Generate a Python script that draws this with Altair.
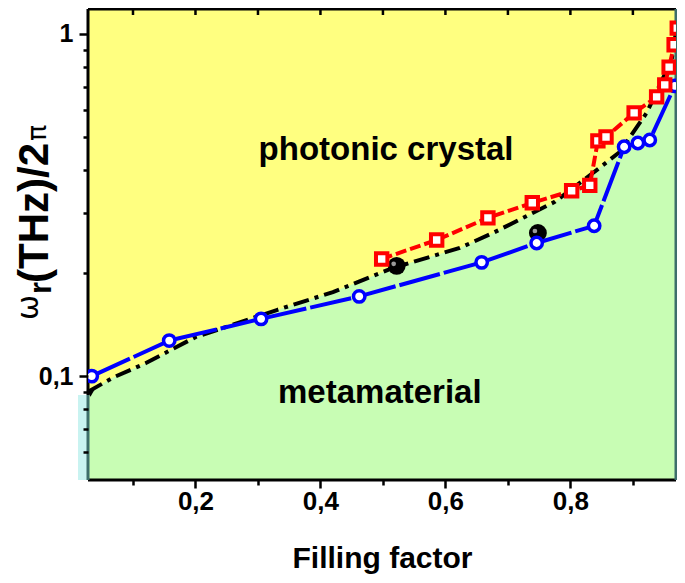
import altair as alt
import pandas as pd

# ---- data ----
blue_f = [0.034, 0.158, 0.305, 0.462, 0.658, 0.746, 0.838, 0.886, 0.908, 0.927, 0.967]
blue_w = [0.100, 0.127, 0.147, 0.171, 0.215, 0.245, 0.275, 0.468, 0.480, 0.490, 0.705]

red_f = [0.498, 0.586, 0.668, 0.739, 0.802, 0.831, 0.844, 0.857, 0.902, 0.938, 0.951, 0.958, 0.966, 0.971]
red_w = [0.220, 0.250, 0.290, 0.321, 0.348, 0.361, 0.487, 0.500, 0.588, 0.655, 0.710, 0.800, 0.930, 1.04]

black_f = [0.028, 0.068, 0.12, 0.20, 0.33, 0.42, 0.516, 0.623, 0.676, 0.724, 0.775, 0.842, 0.879, 0.922, 0.962, 0.972]
black_w = [0.090, 0.099, 0.109, 0.130, 0.156, 0.176, 0.207, 0.237, 0.262, 0.290, 0.323, 0.40, 0.452, 0.588, 0.84, 1.10]

dot_f = [0.522, 0.748]
dot_w = [0.210, 0.262]

start_f = [0.032]
start_w = [0.089]

x_ticks = [0.1, 0.2, 0.3, 0.4, 0.5, 0.6, 0.7, 0.8, 0.9]
y_ticks = [0.06, 0.07, 0.08, 0.09, 0.1, 0.2, 0.3, 0.4, 0.5, 0.6, 0.7, 0.8, 0.9, 1.0]

labels = ["photonic crystal", "metamaterial"]
label_f = [0.505, 0.495]
label_w = [0.429, 0.0834]

X_DOMAIN = [0.028, 0.969]
Y_DOMAIN = [0.0497, 1.183]

W, H = 588, 471
FONT = "Liberation Sans"

blue = pd.DataFrame({"f": blue_f, "w": blue_w})
red = pd.DataFrame({"f": red_f, "w": red_w})
black = pd.DataFrame({"f": black_f, "w": black_w})
dots = pd.DataFrame({"f": dot_f, "w": dot_w})
start = pd.DataFrame({"f": start_f, "w": start_w})
xt = pd.DataFrame({"f": x_ticks})
lab = pd.DataFrame({"t": labels, "f": label_f, "w": label_w})
one = pd.DataFrame({"a": [0]})

xscale = alt.Scale(domain=X_DOMAIN, nice=False, zero=False)
yscale = alt.Scale(type="log", domain=Y_DOMAIN, nice=False)

x_axis = alt.Axis(
    values=x_ticks,
    labelExpr="round(datum.value*10) % 2 == 0 ? replace(format(datum.value, '.1f'), '.', ',') : ''",
    tickSize={"condition": {"test": "round(datum.value*10) % 2 == 0", "value": 8}, "value": 5},
    tickWidth=2.5, tickColor="black", domain=False, grid=False,
    labelFont=FONT, labelFontSize=26, labelFontWeight="bold", labelColor="black",
    labelPadding=0,
    title="Filling factor", titleFont=FONT, titleFontSize=30, titleFontWeight="bold",
    titleColor="black", titleBaseline="alphabetic", titleY=87, zindex=1,
)
y_axis = alt.Axis(
    values=y_ticks,
    labelExpr="datum.value == 1 ? '1' : (datum.value == 0.1 ? '0,1' : '')",
    tickSize={"condition": {"test": "datum.value == 1 || datum.value == 0.1", "value": 9}, "value": 5},
    tickWidth=2.5, tickColor="black", domain=False, grid=False,
    labelFont=FONT, labelFontSize=25, labelFontWeight="bold", labelColor="black",
    labelPadding=6, title=None, zindex=1,
)

X = alt.X("f:Q", scale=xscale, axis=x_axis)
Y = alt.Y("w:Q", scale=yscale, axis=y_axis)

base_x = alt.X("f:Q", scale=xscale)
base_y = alt.Y("w:Q", scale=yscale)

green = alt.Chart(black).mark_area(color="#C8FDB4", opacity=1, clip=True).encode(
    x=X, y=Y, y2=alt.datum(Y_DOMAIN[0])
)

def rule(x, y, x2=None, y2=None, color="black", sw=3):
    enc = dict(x=alt.value(x), y=alt.value(y))
    if x2 is not None:
        enc["x2"] = alt.value(x2)
    if y2 is not None:
        enc["y2"] = alt.value(y2)
    return alt.Chart(one).mark_rule(color=color, strokeWidth=sw).encode(**enc)

cyan = alt.Chart(one).mark_rect(color="#C9F3F1").encode(
    x=alt.value(-10), x2=alt.value(-1), y=alt.value(386), y2=alt.value(471)
)

spines = [
    rule(0, 0, x2=W),
    rule(0, H, x2=W),
    rule(0, 0, y2=386),
    rule(0, 386, y2=H, color="#3D6E6B"),
    rule(W, 0, y2=H, color="#3D6E6B"),
]

top_ticks = alt.Chart(xt).mark_rule(color="black", strokeWidth=2.5).encode(
    x=base_x, y=alt.value(0), y2=alt.value(6)
)

black_line = alt.Chart(black).mark_line(
    color="black", strokeWidth=4, strokeDash=[16, 6, 4, 6], clip=True
).encode(x=base_x, y=base_y)

start_mark = alt.Chart(start).mark_point(
    shape="triangle-down", filled=True, color="black", size=60, opacity=1
).encode(x=base_x, y=base_y)

dot_marks = alt.Chart(dots).mark_point(
    shape="circle", filled=True, color="black", size=320, opacity=1
).encode(x=base_x, y=base_y)
dot_hl = alt.Chart(dots).mark_point(
    shape="circle", filled=True, color="#9a9a9a", size=22, opacity=1, xOffset=-3, yOffset=-2
).encode(x=base_x, y=base_y)

blue_line = alt.Chart(blue).mark_line(
    color="#0000FF", strokeWidth=4, strokeDash=[42, 4], clip=True
).encode(x=base_x, y=base_y)
blue_pts = alt.Chart(blue).mark_point(
    shape="circle", filled=True, fill="white", stroke="#0000FF", strokeWidth=3.5,
    size=130, opacity=1, clip=True
).encode(x=base_x, y=base_y)

red_line = alt.Chart(red).mark_line(
    color="#FF0000", strokeWidth=4, strokeDash=[11, 4], clip=True
).encode(x=base_x, y=base_y)
red_pts = alt.Chart(red).mark_point(
    shape="square", filled=True, fill="white", stroke="#FF0000", strokeWidth=4,
    size=130, opacity=1, clip=True
).encode(x=base_x, y=base_y)

texts = alt.Chart(lab).mark_text(
    font=FONT, fontSize=33, fontWeight="bold", color="black", align="center", baseline="alphabetic"
).encode(x=base_x, y=base_y, text="t:N")

def ytitle(txt, x, y, size, weight="bold", font=FONT):
    return alt.Chart(one).mark_text(
        text=txt, angle=270, align="left", baseline="alphabetic",
        font=font, fontSize=size, fontWeight=weight, color="black"
    ).encode(x=alt.value(x), y=alt.value(y))

ytitles = [
    ytitle("ω", -50, 311, 30, weight="normal", font="DejaVu Sans"),
    ytitle("r", -37, 285, 31),
    ytitle("(THz)/2", -40, 274, 42),
    ytitle("π", -42, 132, 27, weight="normal", font="DejaVu Sans"),
]

chart = alt.layer(
    green, cyan, *spines, top_ticks, black_line, start_mark, dot_marks, dot_hl,
    blue_line, red_line, blue_pts, red_pts, texts, *ytitles,
).encode(
    x=X, y=Y
).properties(
    width=W, height=H,
    padding={"left": 80, "top": 1, "right": 1, "bottom": 95},
    autosize=alt.AutoSizeParams(type="none"),
).configure_view(
    stroke=None, fill="#FFFF80"
)

chart.save("out.html", embed_options={"renderer": "svg", "actions": False})
